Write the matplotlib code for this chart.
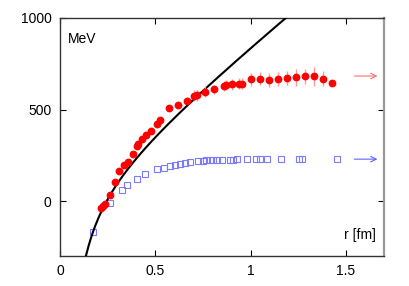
import matplotlib
matplotlib.use("Agg")
import matplotlib.pyplot as plt
import numpy as np

plt.rcParams['font.family'] = ['Liberation Sans', 'DejaVu Sans']

# static potential, red points with errors
r_red = [0.213, 0.227, 0.238, 0.264, 0.288, 0.311, 0.336, 0.358, 0.383, 0.405,
         0.411, 0.430, 0.451, 0.475, 0.510, 0.524, 0.572, 0.620, 0.668, 0.703,
         0.717, 0.762, 0.809, 0.858, 0.871, 0.905, 0.939, 0.953, 1.000, 1.047,
         1.096, 1.143, 1.190, 1.238, 1.285, 1.332, 1.379, 1.426]
v_red = [-37, -26, -16, 35, 105, 164, 195, 215, 255, 300,
         310, 337, 362, 384, 422, 444, 506, 525, 548, 575,
         579, 597, 610, 627, 632, 638, 641, 641, 665, 668,
         661, 667, 670, 676, 681, 681, 668, 646]
e_red = [3, 3, 3, 4, 5, 5, 6, 6, 7, 8,
         8, 9, 9, 10, 11, 12, 14, 15, 18, 30,
         30, 30, 25, 28, 28, 30, 30, 30, 35, 35,
         37, 38, 38, 45, 40, 50, 40, 12]

# blue open squares
r_blue = [0.175, 0.261, 0.324, 0.351, 0.404, 0.446, 0.508, 0.545, 0.576, 0.603,
          0.629, 0.655, 0.680, 0.725, 0.748, 0.766, 0.785, 0.805, 0.826, 0.848,
          0.891, 0.909, 0.930, 0.979, 1.028, 1.047, 1.085, 1.160, 1.255, 1.270,
          1.451]
v_blue = [-171, -12, 62, 88, 123, 147, 173, 183, 190, 197,
          201, 206, 211, 219, 221, 222, 223, 224, 225, 226,
          227, 227, 228, 228, 228, 228, 228, 229, 229, 229,
          229]

# asymptotes (arrows on the right)
red_limit = 683
blue_limit = 229
arrow_x = (1.53, 1.68)

# Cornell curve parameters: V = -a/r + sigma*r + c
a_coul = 63.6
sigma = 845.0
c_const = 52.6

fig = plt.figure(figsize=(4.09, 2.86), dpi=100)
ax = fig.add_axes([0.1467, 0.1049, 0.7922, 0.8322])

r_line = np.linspace(0.12, 1.3, 400)
ax.plot(r_line, -a_coul / r_line + sigma * r_line + c_const, color='black', lw=1.5, zorder=3)

ax.errorbar(r_red, v_red, yerr=e_red, fmt='o', color='#ff0000', ms=4.6,
            ecolor='#ff9a9a', elinewidth=1.0, capsize=0, zorder=4)
ax.plot(r_blue, v_blue, 's', mfc='none', mec='#7b7bff', ms=4.8, mew=0.8, zorder=2)

ax.annotate('', xy=(arrow_x[1], red_limit), xytext=(arrow_x[0], red_limit),
            arrowprops=dict(arrowstyle='->', color='#ff7070', lw=0.8))
ax.annotate('', xy=(arrow_x[1], blue_limit), xytext=(arrow_x[0], blue_limit),
            arrowprops=dict(arrowstyle='->', color='#6060ff', lw=0.8))

ax.set_xlim(0, 1.7)
ax.set_ylim(-300, 1000)
ax.set_xticks([0, 0.5, 1, 1.5])
ax.set_xticklabels(['0', '0.5', '1', '1.5'])
ax.set_yticks([0, 500, 1000])
ax.tick_params(direction='in', top=True, right=True, length=4, labelsize=10, pad=6)

for s in ax.spines.values():
    s.set_linewidth(1.0)
    s.set_color('#333333')
ax.spines['right'].set_color('#999999')
ax.spines['right'].set_linewidth(1.6)

ax.text(0.025, 0.94, 'MeV', transform=ax.transAxes, fontsize=10, va='top', ha='left')
ax.text(0.975, 0.06, 'r [fm]', transform=ax.transAxes, fontsize=10, va='bottom', ha='right')

fig.savefig('out.png', dpi=100)
